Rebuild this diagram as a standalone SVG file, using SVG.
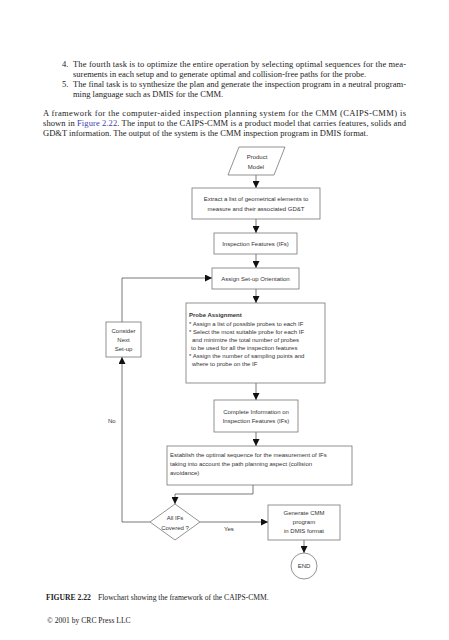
<svg xmlns="http://www.w3.org/2000/svg" width="449" height="640" viewBox="0 0 449 640">
<defs>
<marker id="ah" viewBox="0 0 10 10" refX="10" refY="5" markerWidth="7" markerHeight="7" markerUnits="userSpaceOnUse" orient="auto"><path d="M0,0 L10,5 L0,10 z" fill="#111"/></marker>
<style>
.body{font-family:"Liberation Serif","Times New Roman",serif;font-size:8.5px;fill:#222}
.fc{font-family:"Liberation Sans",Arial,sans-serif;font-size:6px;fill:#333}
.box{fill:#fff;stroke:#777;stroke-width:0.8}
.ln{fill:none;stroke:#555;stroke-width:0.8}
.cap{font-family:"Liberation Serif","Times New Roman",serif;font-size:7.6px;fill:#222}
</style>
</defs>
<rect width="449" height="640" fill="#fff"/>
<g id="text">
<text class="body" x="62" y="67">4.</text>
<text class="body" x="73" y="67" textLength="333" lengthAdjust="spacing">The fourth task is to optimize the entire operation by selecting optimal sequences for the mea-</text>
<text class="body" x="73" y="77">surements in each setup and to generate optimal and collision-free paths for the probe.</text>
<text class="body" x="62" y="87">5.</text>
<text class="body" x="73" y="87" textLength="333" lengthAdjust="spacing">The final task is to synthesize the plan and generate the inspection program in a neutral program-</text>
<text class="body" x="73" y="97">ming language such as DMIS for the CMM.</text>
<text class="body" x="43" y="116" textLength="363" lengthAdjust="spacing">A framework for the computer-aided inspection planning system for the CMM (CAIPS-CMM) is</text>
<text class="body" x="43" y="126" textLength="363" lengthAdjust="spacing">shown in <tspan fill="#3b3bb0">Figure 2.22</tspan>. The input to the CAIPS-CMM is a product model that carries features, solids and</text>
<text class="body" x="43" y="136">GD&amp;T information. The output of the system is the CMM inspection program in DMIS format.</text>
</g>
<g id="connectors">
<line class="ln" x1="256" y1="175" x2="256" y2="188" marker-end="url(#ah)"/>
<line class="ln" x1="256" y1="219" x2="256" y2="233" marker-end="url(#ah)"/>
<line class="ln" x1="256" y1="254" x2="256" y2="268" marker-end="url(#ah)"/>
<line class="ln" x1="256" y1="289" x2="256" y2="303" marker-end="url(#ah)"/>
<line class="ln" x1="256" y1="383" x2="256" y2="400" marker-end="url(#ah)"/>
<line class="ln" x1="256" y1="432" x2="256" y2="446" marker-end="url(#ah)"/>
<polyline class="ln" points="253,485 253,494 175,494 175,504" marker-end="url(#ah)"/>
<line class="ln" x1="200" y1="522" x2="268" y2="522" marker-end="url(#ah)"/>
<line class="ln" x1="304" y1="540" x2="304" y2="553" marker-end="url(#ah)"/>
<polyline class="ln" points="150,522 122,522 122,357" marker-end="url(#ah)"/>
<polyline class="ln" points="122,322 122,278 212,278" marker-end="url(#ah)"/>
<text class="fc" x="108" y="423">No</text>
<text class="fc" x="224" y="531">Yes</text>
</g>
<g id="product-model">
<polygon class="box" points="239,147 285,147 274,175 228,175"/>
<text class="fc" x="257" y="159" text-anchor="middle">Product</text>
<text class="fc" x="256" y="169" text-anchor="middle">Model</text>
</g>
<g id="extract">
<rect class="box" x="192" y="188" width="128" height="31"/>
<text class="fc" x="256" y="201" text-anchor="middle">Extract a list of geometrical elements to</text>
<text class="fc" x="256" y="211" text-anchor="middle">measure and their associated GD&amp;T</text>
</g>
<g id="inspection-features">
<rect class="box" x="214" y="233" width="83" height="21"/>
<text class="fc" x="255.5" y="245.5" text-anchor="middle">Inspection Features (IFs)</text>
</g>
<g id="assign-setup">
<rect class="box" x="212" y="268" width="87" height="21"/>
<text class="fc" x="255.5" y="280.5" text-anchor="middle">Assign Set-up Orientation</text>
</g>
<g id="probe-assignment">
<rect class="box" x="186" y="303" width="139" height="80"/>
<text class="fc" x="189" y="317" font-weight="bold" font-size="6.4">Probe Assignment</text>
<text class="fc" x="189" y="325.5">* Assign a list of possible probes to each IF</text>
<text class="fc" x="189" y="333.5">* Select the most suitable probe for each IF</text>
<text class="fc" x="192" y="341.5">and minimize the total number of probes</text>
<text class="fc" x="191" y="349.5">to be used for all the inspection features</text>
<text class="fc" x="189" y="357.5">* Assign the number of sampling points and</text>
<text class="fc" x="192" y="365.5">where to probe on the IF</text>
</g>
<g id="consider-next">
<rect class="box" x="106" y="322" width="35" height="35"/>
<text class="fc" x="123.5" y="333" text-anchor="middle">Consider</text>
<text class="fc" x="123.5" y="342" text-anchor="middle">Next</text>
<text class="fc" x="123.5" y="351" text-anchor="middle">Set-up</text>
</g>
<g id="complete-info">
<rect class="box" x="214" y="400" width="84" height="32"/>
<text class="fc" x="256" y="414" text-anchor="middle">Complete Information on</text>
<text class="fc" x="256" y="423" text-anchor="middle">Inspection Features (IFs)</text>
</g>
<g id="establish">
<rect class="box" x="167" y="446" width="185" height="39"/>
<text class="fc" x="170" y="457">Establish the optimal sequence for the measurement of IFs</text>
<text class="fc" x="170" y="466">taking into account the path planning aspect (collision</text>
<text class="fc" x="170" y="475">avoidance)</text>
</g>
<g id="all-ifs-covered">
<polygon class="box" points="175,504 200,522 175,540 150,522"/>
<text class="fc" x="175" y="520" text-anchor="middle">All IFs</text>
<text class="fc" x="175" y="530" text-anchor="middle">Covered ?</text>
</g>
<g id="generate-cmm">
<rect class="box" x="268" y="505" width="72" height="35"/>
<text class="fc" x="304" y="515" text-anchor="middle">Generate CMM</text>
<text class="fc" x="304" y="524" text-anchor="middle">program</text>
<text class="fc" x="304" y="533" text-anchor="middle">in DMIS format</text>
</g>
<g id="end">
<circle class="box" cx="304" cy="566" r="13"/>
<text class="fc" x="304" y="568" text-anchor="middle">END</text>
</g>
<g id="caption">
<text class="cap" x="46" y="600" font-weight="bold">FIGURE 2.22</text>
<text class="cap" x="98" y="600">Flowchart showing the framework of the CAIPS-CMM.</text>
<text class="cap" x="47" y="623" font-size="5.6">© 2001 by CRC Press LLC</text>
</g>
</svg>
